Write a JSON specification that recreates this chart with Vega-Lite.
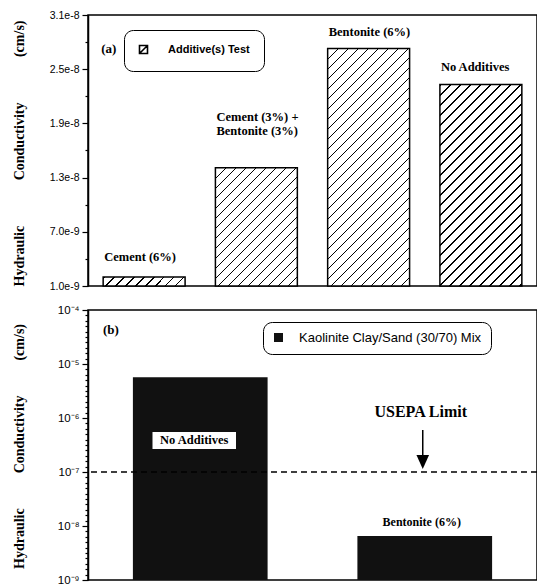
{
 "$schema": "https://vega.github.io/schema/vega-lite/v6.json",
 "padding": {"left": 11, "top": 9, "right": 0, "bottom": 0},
 "bounds": "flush",
 "spacing": 24,
 "background": "white",
 "params": [{"name": "hs", "value": [
{"offset":0,"color":"#000"},{"offset":0.006,"color":"#000"},{"offset":0.006,"color":"#fff"},{"offset":0.03125,"color":"#fff"},
{"offset":0.03125,"color":"#000"},{"offset":0.03725,"color":"#000"},{"offset":0.03725,"color":"#fff"},{"offset":0.0625,"color":"#fff"},
{"offset":0.0625,"color":"#000"},{"offset":0.0685,"color":"#000"},{"offset":0.0685,"color":"#fff"},{"offset":0.09375,"color":"#fff"},
{"offset":0.09375,"color":"#000"},{"offset":0.09975,"color":"#000"},{"offset":0.09975,"color":"#fff"},{"offset":0.125,"color":"#fff"},
{"offset":0.125,"color":"#000"},{"offset":0.131,"color":"#000"},{"offset":0.131,"color":"#fff"},{"offset":0.15625,"color":"#fff"},
{"offset":0.15625,"color":"#000"},{"offset":0.16225,"color":"#000"},{"offset":0.16225,"color":"#fff"},{"offset":0.1875,"color":"#fff"},
{"offset":0.1875,"color":"#000"},{"offset":0.1935,"color":"#000"},{"offset":0.1935,"color":"#fff"},{"offset":0.21875,"color":"#fff"},
{"offset":0.21875,"color":"#000"},{"offset":0.22475,"color":"#000"},{"offset":0.22475,"color":"#fff"},{"offset":0.25,"color":"#fff"},
{"offset":0.25,"color":"#000"},{"offset":0.256,"color":"#000"},{"offset":0.256,"color":"#fff"},{"offset":0.28125,"color":"#fff"},
{"offset":0.28125,"color":"#000"},{"offset":0.28725,"color":"#000"},{"offset":0.28725,"color":"#fff"},{"offset":0.3125,"color":"#fff"},
{"offset":0.3125,"color":"#000"},{"offset":0.3185,"color":"#000"},{"offset":0.3185,"color":"#fff"},{"offset":0.34375,"color":"#fff"},
{"offset":0.34375,"color":"#000"},{"offset":0.34975,"color":"#000"},{"offset":0.34975,"color":"#fff"},{"offset":0.375,"color":"#fff"},
{"offset":0.375,"color":"#000"},{"offset":0.381,"color":"#000"},{"offset":0.381,"color":"#fff"},{"offset":0.40625,"color":"#fff"},
{"offset":0.40625,"color":"#000"},{"offset":0.41225,"color":"#000"},{"offset":0.41225,"color":"#fff"},{"offset":0.4375,"color":"#fff"},
{"offset":0.4375,"color":"#000"},{"offset":0.4435,"color":"#000"},{"offset":0.4435,"color":"#fff"},{"offset":0.46875,"color":"#fff"},
{"offset":0.46875,"color":"#000"},{"offset":0.47475,"color":"#000"},{"offset":0.47475,"color":"#fff"},{"offset":0.5,"color":"#fff"},
{"offset":0.5,"color":"#000"},{"offset":0.506,"color":"#000"},{"offset":0.506,"color":"#fff"},{"offset":0.53125,"color":"#fff"},
{"offset":0.53125,"color":"#000"},{"offset":0.53725,"color":"#000"},{"offset":0.53725,"color":"#fff"},{"offset":0.5625,"color":"#fff"},
{"offset":0.5625,"color":"#000"},{"offset":0.5685,"color":"#000"},{"offset":0.5685,"color":"#fff"},{"offset":0.59375,"color":"#fff"},
{"offset":0.59375,"color":"#000"},{"offset":0.59975,"color":"#000"},{"offset":0.59975,"color":"#fff"},{"offset":0.625,"color":"#fff"},
{"offset":0.625,"color":"#000"},{"offset":0.631,"color":"#000"},{"offset":0.631,"color":"#fff"},{"offset":0.65625,"color":"#fff"},
{"offset":0.65625,"color":"#000"},{"offset":0.66225,"color":"#000"},{"offset":0.66225,"color":"#fff"},{"offset":0.6875,"color":"#fff"},
{"offset":0.6875,"color":"#000"},{"offset":0.6935,"color":"#000"},{"offset":0.6935,"color":"#fff"},{"offset":0.71875,"color":"#fff"},
{"offset":0.71875,"color":"#000"},{"offset":0.72475,"color":"#000"},{"offset":0.72475,"color":"#fff"},{"offset":0.75,"color":"#fff"},
{"offset":0.75,"color":"#000"},{"offset":0.756,"color":"#000"},{"offset":0.756,"color":"#fff"},{"offset":0.78125,"color":"#fff"},
{"offset":0.78125,"color":"#000"},{"offset":0.78725,"color":"#000"},{"offset":0.78725,"color":"#fff"},{"offset":0.8125,"color":"#fff"},
{"offset":0.8125,"color":"#000"},{"offset":0.8185,"color":"#000"},{"offset":0.8185,"color":"#fff"},{"offset":0.84375,"color":"#fff"},
{"offset":0.84375,"color":"#000"},{"offset":0.84975,"color":"#000"},{"offset":0.84975,"color":"#fff"},{"offset":0.875,"color":"#fff"},
{"offset":0.875,"color":"#000"},{"offset":0.881,"color":"#000"},{"offset":0.881,"color":"#fff"},{"offset":0.90625,"color":"#fff"},
{"offset":0.90625,"color":"#000"},{"offset":0.91225,"color":"#000"},{"offset":0.91225,"color":"#fff"},{"offset":0.9375,"color":"#fff"},
{"offset":0.9375,"color":"#000"},{"offset":0.9435,"color":"#000"},{"offset":0.9435,"color":"#fff"},{"offset":0.96875,"color":"#fff"},
{"offset":0.96875,"color":"#000"},{"offset":0.97475,"color":"#000"},{"offset":0.97475,"color":"#fff"},{"offset":1,"color":"#fff"}
 ]}],
 "config": {
  "view": {"stroke": "black", "strokeWidth": 1.5},
  "axis": {"domainColor": "black", "tickColor": "black", "labelColor": "black", "titleColor": "black", "grid": false}
 },
 "resolve": {"legend": {"stroke": "independent", "fill": "independent"}},
 "vconcat": [
  {
   "width": 449,
   "height": 271,
   "data": {"values": [
    {"k": "Cement (6%)", "lab": "Cement (6%)", "v": 2.0e-9},
    {"k": "Cement (3%) + Bentonite (3%)", "lab": "Cement (3%) +\nBentonite (3%)", "v": 1.41e-8},
    {"k": "Bentonite (6%)", "lab": "Bentonite (6%)", "v": 2.73e-8},
    {"k": "No Additives", "lab": "No Additives", "v": 2.33e-8}
   ]},
   "encoding": {
    "y": {"field": "v", "type": "quantitative",
     "scale": {"domain": [1e-9, 3.1e-8], "nice": false, "zero": false},
     "axis": {
      "values": [1e-9, 4e-9, 7e-9, 1e-8, 1.3e-8, 1.6e-8, 1.9e-8, 2.2e-8, 2.5e-8, 2.8e-8, 3.1e-8],
      "labelExpr": "indexof([1e-9,7e-9,1.3e-8,1.9e-8,2.5e-8,3.1e-8], datum.value) >= 0 ? format(datum.value, '.1e') : ''",
      "tickSize": {"condition": {"test": "indexof([1e-9,7e-9,1.3e-8,1.9e-8,2.5e-8,3.1e-8], datum.value) >= 0", "value": 6}, "value": 3},
      "labelOverlap": false, "labelPadding": 3, "labelFont": "Liberation Sans", "labelFontSize": 10.5,
      "domainWidth": 1.5, "tickWidth": 1.2,
      "title": "Hydraulic\u00a0\u00a0\u00a0\u00a0\u00a0\u00a0\u00a0\u00a0\u00a0\u00a0\u00a0\u00a0\u00a0Conductivity\u00a0\u00a0\u00a0\u00a0\u00a0\u00a0\u00a0\u00a0\u00a0\u00a0\u00a0\u00a0\u00a0(cm/s)",
      "titleFont": "Liberation Serif", "titleFontSize": 14, "titleFontWeight": "bold",
      "titleX": -69, "titleY": 138, "titleAlign": "center", "titleBaseline": "middle"
     }
    }
   },
   "layer": [
    {
     "mark": {"type": "bar", "strokeWidth": 1.5, "stroke": "black",
      "fill": {"expr": "{gradient: 'linear', x1: 0, y1: 0, x2: 82*320/(6724 + pow((datum.v-1e-9)*9.0333e9, 2)), y2: (datum.v-1e-9)*9.0333e9*320/(6724 + pow((datum.v-1e-9)*9.0333e9, 2)), stops: hs}"}},
     "encoding": {
      "x": {"field": "k", "type": "nominal", "scale": {"domain": ["Cement (6%)", "Cement (3%) + Bentonite (3%)", "Bentonite (6%)", "No Additives"], "paddingInner": 0.27, "paddingOuter": 0.135}, "axis": null},
      "y2": {"datum": 1e-9}
     }
    },
    {
     "transform": [{"filter": "false"}],
     "mark": {"type": "bar", "fill": "white", "strokeWidth": 1.5},
     "encoding": {
      "x": {"field": "k", "type": "nominal"},
      "y2": {"datum": 1e-9},
      "stroke": {"datum": "Additive(s) Test", "type": "nominal", "scale": {"range": ["black"]},
       "legend": {"title": null, "orient": "none", "legendX": 36, "legendY": 15,
        "strokeColor": "black", "cornerRadius": 9, "padding": 14,
        "symbolType": "M-1,-1H1V1H-1Z M-1,1L1,-1", "symbolSize": 64, "symbolStrokeWidth": 1.6, "symbolStrokeColor": "black", "symbolFillColor": "white",
        "labelFont": "Liberation Sans", "labelFontSize": 11, "labelFontWeight": "bold", "labelColor": "black",
        "labelOffset": 19, "labelLimit": 300, "labelExpr": "datum.label + '\u00a0\u00a0\u00a0\u00a0'",
        "encode": {
         "legend": {"strokeWidth": {"value": 1.5}},
         "symbols": {"fill": {"value": "white"}}
        }
       }
      }
     }
    },
    {
     "mark": {"type": "text", "align": "left", "baseline": "alphabetic", "dx": 1, "lineBreak": "\n", "lineHeight": 14,
      "font": "Liberation Serif", "fontWeight": "bold", "fontSize": 12.5, "color": "black",
      "dy": {"expr": "datum.k === 'Cement (3%) + Bentonite (3%)' ? -47 : datum.k === 'Cement (6%)' ? -16 : datum.k === 'Bentonite (6%)' ? -12 : -14"}},
     "encoding": {
      "x": {"field": "k", "type": "nominal", "bandPosition": 0},
      "text": {"field": "lab"}
     }
    },
    {
     "transform": [{"filter": "datum.k === 'Cement (6%)'"}],
     "mark": {"type": "text", "text": "(a)", "align": "left", "baseline": "middle", "dx": -2,
      "font": "Liberation Serif", "fontWeight": "bold", "fontSize": 13, "color": "black"},
     "encoding": {
      "x": {"field": "k", "type": "nominal", "bandPosition": 0},
      "y": {"datum": 2.72e-8}
     }
    }
   ]
  },
  {
   "width": 449,
   "height": 270,
   "data": {"values": [
    {"k": "No Additives", "v": 5.7e-6},
    {"k": "Bentonite (6%)", "v": 6.5e-9}
   ]},
   "encoding": {
    "y": {"field": "v", "type": "quantitative",
     "scale": {"type": "log", "domain": [1e-9, 1e-4], "nice": false},
     "axis": {
      "values": [1e-4,7.943e-5,6.310e-5,5.012e-5,3.981e-5,3.162e-5,2.512e-5,1.995e-5,1.585e-5,1.259e-5,
                 1e-5,7.943e-6,6.310e-6,5.012e-6,3.981e-6,3.162e-6,2.512e-6,1.995e-6,1.585e-6,1.259e-6,
                 1e-6,7.943e-7,6.310e-7,5.012e-7,3.981e-7,3.162e-7,2.512e-7,1.995e-7,1.585e-7,1.259e-7,
                 1e-7,7.943e-8,6.310e-8,5.012e-8,3.981e-8,3.162e-8,2.512e-8,1.995e-8,1.585e-8,1.259e-8,
                 1e-8,7.943e-9,6.310e-9,5.012e-9,3.981e-9,3.162e-9,2.512e-9,1.995e-9,1.585e-9,1.259e-9,1e-9],
      "labelExpr": "abs(log(datum.value)/LN10 - round(log(datum.value)/LN10)) < 0.01 ? '10\u207b' + ['','','','','\u2074','\u2075','\u2076','\u2077','\u2078','\u2079'][round(-log(datum.value)/LN10)] : ''",
      "tickSize": {"condition": {"test": "abs(log(datum.value)/LN10 - round(log(datum.value)/LN10)) < 0.01", "value": 6}, "value": 3},
      "labelOverlap": false, "labelPadding": 3, "labelFont": "Liberation Sans", "labelFontSize": 11.5,
      "domainWidth": 1.5, "tickWidth": 1.2,
      "title": "Hydraulic\u00a0\u00a0\u00a0\u00a0\u00a0\u00a0\u00a0\u00a0\u00a0\u00a0Conductivity\u00a0\u00a0\u00a0\u00a0\u00a0\u00a0\u00a0\u00a0\u00a0\u00a0(cm/s)",
      "titleFont": "Liberation Serif", "titleFontSize": 14, "titleFontWeight": "bold",
      "titleX": -69, "titleY": 136, "titleAlign": "center", "titleBaseline": "middle"
     }
    }
   },
   "layer": [
    {
     "mark": {"type": "bar"},
     "encoding": {
      "x": {"field": "k", "type": "nominal", "scale": {"domain": ["No Additives", "Bentonite (6%)"], "paddingInner": 0.4, "paddingOuter": 0.2}, "axis": null},
      "y2": {"datum": 1e-9},
      "fill": {"datum": "Kaolinite Clay/Sand (30/70) Mix", "type": "nominal", "scale": {"range": ["#111111"]},
       "legend": {"title": null, "orient": "none", "legendX": 175, "legendY": 12,
        "strokeColor": "black", "cornerRadius": 9, "padding": 9,
        "symbolType": "square", "symbolSize": 81, "symbolStrokeWidth": 0,
        "labelFont": "Liberation Sans", "labelFontSize": 13, "labelColor": "black",
        "labelOffset": 14, "labelLimit": 300, "labelExpr": "datum.label + '\u00a0\u00a0'",
        "encode": {"legend": {"strokeWidth": {"value": 1.5}}}}
      }
     }
    },
    {
     "transform": [{"filter": "datum.k === 'No Additives'"}],
     "mark": {"type": "rule", "strokeDash": [6, 4], "strokeWidth": 1.5, "color": "black"},
     "encoding": {"y": {"datum": 1e-7}}
    },
    {
     "transform": [{"filter": "datum.k === 'No Additives'"}],
     "mark": {"type": "bar", "fill": "white", "width": {"band": 0.62}, "xOffset": -6},
     "encoding": {
      "x": {"field": "k", "type": "nominal"},
      "y": {"datum": 5.5e-7},
      "y2": {"datum": 2.67e-7}
     }
    },
    {
     "transform": [{"filter": "datum.k === 'No Additives'"}],
     "mark": {"type": "text", "baseline": "middle", "dx": -6,
      "font": "Liberation Serif", "fontWeight": "bold", "fontSize": 12.5, "color": "black"},
     "encoding": {
      "x": {"field": "k", "type": "nominal"},
      "y": {"datum": 3.9e-7},
      "text": {"field": "k"}
     }
    },
    {
     "transform": [{"filter": "datum.k === 'Bentonite (6%)'"}],
     "mark": {"type": "text", "baseline": "middle", "dx": -3, "dy": -14,
      "font": "Liberation Serif", "fontWeight": "bold", "fontSize": 12, "color": "black"},
     "encoding": {
      "x": {"field": "k", "type": "nominal"},
      "text": {"field": "k"}
     }
    },
    {
     "transform": [{"filter": "datum.k === 'Bentonite (6%)'"}],
     "mark": {"type": "text", "text": "USEPA Limit", "baseline": "middle", "dx": -4,
      "font": "Liberation Serif", "fontWeight": "bold", "fontSize": 16, "color": "black"},
     "encoding": {
      "x": {"field": "k", "type": "nominal"},
      "y": {"datum": 1.29e-6}
     }
    },
    {
     "transform": [{"filter": "datum.k === 'Bentonite (6%)'"}],
     "mark": {"type": "rule", "strokeWidth": 1.5, "color": "black", "xOffset": -2},
     "encoding": {
      "x": {"field": "k", "type": "nominal"},
      "y": {"datum": 6e-7},
      "y2": {"datum": 1.6e-7}
     }
    },
    {
     "transform": [{"filter": "datum.k === 'Bentonite (6%)'"}],
     "mark": {"type": "point", "shape": "M-0.9,-1L0.9,-1L0,1Z", "filled": true, "size": 196, "color": "black", "opacity": 1, "xOffset": -2},
     "encoding": {
      "x": {"field": "k", "type": "nominal"},
      "y": {"datum": 1.53e-7}
     }
    },
    {
     "transform": [{"filter": "datum.k === 'No Additives'"}],
     "mark": {"type": "text", "text": "(b)", "align": "left", "baseline": "middle", "dx": -30,
      "font": "Liberation Serif", "fontWeight": "bold", "fontSize": 13, "color": "black"},
     "encoding": {
      "x": {"field": "k", "type": "nominal", "bandPosition": 0},
      "y": {"datum": 4.26e-5}
     }
    }
   ]
  }
 ]
}
